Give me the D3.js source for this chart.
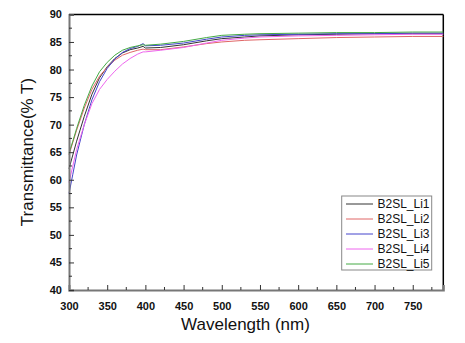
<!DOCTYPE html>
<html><head><meta charset="utf-8">
<script src="https://cdn.jsdelivr.net/npm/d3@7"></script>
<style>body{margin:0;background:#fff}svg{display:block}text{font-family:"Liberation Sans",Arial,sans-serif}</style>
</head><body><svg id="c" width="465" height="343"></svg>
<script>
const wavelength = [300,305,310,320,330,340,350,360,370,380,390,397,400,420,450,480,500,530,550,600,650,700,750,790];
const li1 = [62.0,64.5,67.0,71.5,75.5,78.5,80.5,82.0,83.0,83.6,83.9,84.2,83.9,84.0,84.5,85.2,85.6,85.9,86.1,86.3,86.4,86.5,86.5,86.5];
const li2 = [64.5,66.8,69.0,73.0,76.4,78.8,80.4,81.7,82.6,83.1,83.5,83.7,83.6,83.6,84.1,84.7,85.0,85.3,85.4,85.6,85.8,85.9,86.0,86.0];
const li3 = [57.5,61.0,64.5,70.0,74.5,77.8,80.2,81.9,83.1,83.8,84.2,84.7,84.3,84.4,84.8,85.5,85.9,86.2,86.3,86.4,86.5,86.5,86.6,86.6];
const li4 = [59.5,62.5,65.5,70.0,73.8,76.4,78.2,79.7,81.0,82.0,82.8,83.2,83.2,83.5,84.0,84.8,85.3,85.7,85.9,86.1,86.2,86.3,86.4,86.4];
const li5 = [64.8,67.0,69.3,73.5,77.0,79.6,81.3,82.6,83.5,84.0,84.3,84.5,84.4,84.6,85.1,85.8,86.2,86.4,86.5,86.6,86.7,86.7,86.8,86.8];
const seriesNames = ["B2SL_Li1","B2SL_Li2","B2SL_Li3","B2SL_Li4","B2SL_Li5"];
const seriesValues = [li1,li2,li3,li4,li5];
const colors = ["#333333","#e06666","#4444cc","#ee66ee","#44aa44"];
const xTicks = [300,350,400,450,500,550,600,650,700,750];
const yTicks = [40,45,50,55,60,65,70,75,80,85,90];

const svg = d3.select("#c");
const L=69,R=443.3,T=14.4,B=290;
const x = d3.scaleLinear().domain([300,790]).range([L,R]);
const y = d3.scaleLinear().domain([40,90]).range([B,T]);

// frame top/right
svg.append("line").attr("x1",L).attr("x2",R).attr("y1",T).attr("y2",T).attr("stroke","#000").attr("stroke-width",1.5);
svg.append("line").attr("x1",R).attr("x2",R).attr("y1",T).attr("y2",B).attr("stroke","#000").attr("stroke-width",1.5);

// lines
const line = d3.line().x((d,i)=>x(wavelength[i])).y(d=>y(d));
seriesValues.forEach((vals,k)=>{
  svg.append("path").attr("d",line(vals)).attr("fill","none").attr("stroke",colors[k]).attr("stroke-width",1);
});

// x axis
const xMinor = d3.range(325,790,50);
const gx = svg.append("g").attr("transform",`translate(0,${B})`);
gx.call(d3.axisBottom(x).tickValues(xTicks).tickSize(-5).tickPadding(12).tickFormat(d3.format("d")));
gx.selectAll(".tick").filter(d=>false);
xMinor.forEach(v=>gx.append("line").attr("x1",x(v)).attr("x2",x(v)).attr("y1",0).attr("y2",-3).attr("stroke","#333"));
// y axis
const yMinor = d3.range(42.5,90,5);
const gy = svg.append("g").attr("transform",`translate(${L},0)`);
gy.call(d3.axisLeft(y).tickValues(yTicks).tickSize(-5).tickPadding(7).tickFormat(d3.format("d")));
yMinor.forEach(v=>gy.append("line").attr("x1",0).attr("x2",3).attr("y1",y(v)).attr("y2",y(v)).attr("stroke","#333"));
[gx,gy].forEach(g=>{
  g.select(".domain").attr("stroke","#777").attr("stroke-width",2);
  g.selectAll(".tick line").attr("stroke","#333");
  g.selectAll(".tick text").attr("font-size",11).attr("font-weight","bold").attr("fill","#111")
   .attr("font-family","'Liberation Sans',Arial,sans-serif");
});

// titles
svg.append("text").attr("x",245.5).attr("y",330).attr("text-anchor","middle").attr("font-size",17).attr("fill","#111").text("Wavelength (nm)");
svg.append("text").attr("transform","translate(33,152) rotate(-90)").attr("text-anchor","middle").attr("font-size",17).attr("fill","#111").text("Transmittance(% T)");

// legend
const lg = svg.append("g");
lg.append("rect").attr("x",341.7).attr("y",196).attr("width",90).attr("height",74).attr("fill","#fff").attr("stroke","#888").attr("stroke-width",1);
seriesNames.forEach((n,k)=>{
  const yy = 204 + k*15;
  lg.append("line").attr("x1",346).attr("x2",373).attr("y1",yy).attr("y2",yy).attr("stroke",colors[k]).attr("stroke-width",1);
  lg.append("text").attr("x",377.5).attr("y",yy+4.3).attr("font-size",12).attr("fill","#111").text(n);
});
</script></body></html>
